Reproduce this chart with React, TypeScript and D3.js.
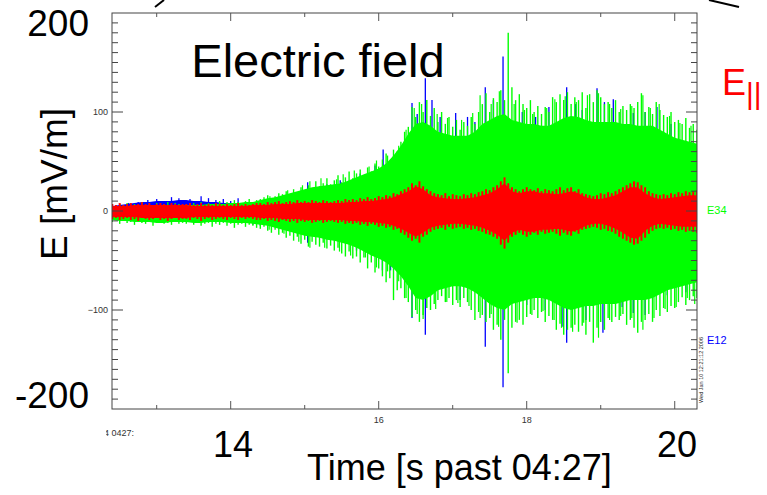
import React from 'react';
import * as d3 from 'd3';

// Coarse time grid (s past 04:27), 0.1 s bins — bulk envelopes
const TIME = d3.range(80).map((i) => Math.round((12.4 + i * 0.1) * 10) / 10);
// Fine time grid, 0.05 s bins — peak (hair) values
const FINE_TIME = d3.range(159).map((i) => Math.round((12.4 + i * 0.05) * 100) / 100);

// E34 (green) bulk envelope
const E34_UPPER = [
  4, 4, 5, 5, 5, 5, 6, 6, 5, 5, 6, 6, 6, 7, 7, 7, 8, 8, 9, 9,
  11, 13, 14, 16, 18, 20, 22,
  24, 25, 26, 27, 28,
  31, 34, 37, 40, 43,
  48, 56, 66, 78,
  88, 90, 86,
  80, 78, 76, 76, 76, 80,
  88, 92, 96, 98, 92,
  90, 88, 88, 86, 86, 90,
  94, 96, 95, 92, 90,
  90, 90, 90, 88, 88,
  86, 86, 86, 82, 78,
  74, 72, 70, 68,
];
const E34_LOWER = [
  -9, -10, -10, -11, -11, -11, -12, -12, -11, -11, -11, -12, -12, -11, -11, -11, -12, -12, -12, -13,
  -14, -15, -17, -19, -21, -23, -25,
  -26, -27, -29, -30, -32,
  -34, -37, -41, -45, -48,
  -52, -58, -66, -76,
  -88, -90, -86,
  -80, -78, -76, -76, -78, -82,
  -88, -94, -98, -100, -94,
  -92, -90, -88, -88, -90, -94,
  -98, -100, -98, -96, -96,
  -94, -94, -94, -92, -90,
  -90, -90, -88, -84, -80,
  -78, -76, -74, -72,
];
// E34 peaks per 0.05 s bin
const E34_PEAK_UP = [
  6, 5, 7, 6, 8, 5, 7, 6, 9, 6, 7, 5, 8, 6, 7, 9, 6, 8, 7, 6,
  7, 6, 8, 7, 9, 6, 8, 7, 8, 10, 7, 9, 8, 11, 9, 8, 10, 12, 9, 11,
  12, 14, 16, 13, 15, 18, 17, 20, 16, 22, 19, 24, 21, 26, 23, 30, 25, 28, 33, 27,
  31, 36, 29, 34, 40, 33, 38, 42, 36, 44, 40, 48, 45, 52, 58, 50, 62, 60, 70, 80,
  85, 105, 95, 110, 100, 112, 96, 104, 90, 100, 88, 95, 85, 92, 82, 90, 86, 95, 88, 100,
  108, 119, 100, 114, 110, 122, 112, 180, 125, 112, 118, 108, 104, 112, 100, 106, 98, 105, 100, 115,
  110, 118, 112, 120, 108, 115, 112, 120, 104, 118, 110, 122, 115, 108, 110, 104, 112, 100, 106, 102,
  108, 104, 110, 119, 100, 105, 98, 110, 102, 97, 95, 100, 90, 92, 88, 94, 84, 88, 82,
];
const E34_PEAK_DOWN = [
  -11, -9, -13, -10, -12, -11, -14, -10, -12, -13, -11, -15, -12, -10, -13, -12, -14, -11, -13, -12,
  -13, -11, -14, -12, -15, -13, -12, -16, -13, -14, -12, -15, -13, -17, -14, -13, -16, -14, -15, -17,
  -18, -16, -20, -22, -19, -24, -22, -27, -25, -30, -26, -33, -29, -36, -31, -34, -36, -32, -38, -35,
  -40, -37, -43, -46, -41, -48, -46, -52, -47, -58, -52, -62, -58, -66, -72, -68, -90, -80, -78, -88,
  -92, -107, -100, -112, -105, -98, -100, -94, -90, -86, -92, -88, -95, -90, -97, -88, -92, -100, -110, -102,
  -105, -112, -108, -120, -115, -130, -110, -164, -118, -112, -110, -115, -107, -104, -100, -108, -102, -112, -106, -110,
  -120, -114, -125, -120, -118, -115, -122, -116, -125, -112, -133, -118, -112, -120, -108, -112, -107, -110, -104, -115,
  -110, -118, -123, -112, -110, -104, -112, -100, -106, -98, -102, -96, -98, -92, -87, -95, -90, -86, -88,
];
// Extra individual E34 spikes [time, value]
const E34_SPIKES: [number, number][] = [
  [14.53, 15], [14.77, 21], [14.97, 26], [15.07, 30], [15.22, 33], [15.43, 32], [15.52, 37],
  [15.67, 41], [15.87, 45], [15.97, 51], [16.12, 56], [16.27, 66], [16.37, 82], [16.48, 104],
  [16.58, 108], [16.79, 98], [16.93, 94], [17.12, 92], [17.27, 99], [17.37, 117], [17.52, 108],
  [17.63, 121], [17.83, 108], [17.97, 102], [18.08, 98], [18.27, 104], [18.38, 113], [18.52, 116],
  [18.67, 110], [18.82, 117], [18.97, 119], [19.12, 108], [19.27, 103], [19.42, 106], [19.57, 117],
  [19.67, 104], [19.79, 108], [19.93, 96], [20.07, 89], [20.22, 86],
  [14.52, -19], [14.72, -23], [14.92, -31], [15.07, -37], [15.27, -37], [15.47, -41], [15.62, -45],
  [15.82, -47], [15.97, -57], [16.12, -61], [16.27, -71], [16.37, -88], [16.52, -104], [16.6, -109],
  [16.77, -99], [16.92, -92], [17.07, -93], [17.22, -96], [17.37, -108], [17.52, -104], [17.62, -117],
  [17.87, -113], [18.07, -105], [18.22, -101], [18.37, -110], [18.47, -118], [18.62, -122],
  [18.77, -113], [18.97, -128], [19.12, -110], [19.27, -106], [19.42, -108], [19.57, -120],
  [19.72, -108], [19.87, -99], [20.02, -97], [20.17, -88], [20.27, -94],
];

// E12 (blue) bulk envelope
const E12_UPPER = [
  5, 6, 7, 8, 9, 9, 10, 10, 10, 11, 11, 10, 10, 9, 9, 8, 8, 7, 6, 6,
  10, 12, 13, 15, 16, 18, 20,
  22, 23, 24, 25, 26,
  29, 31, 34, 37, 40,
  45, 52, 62, 74,
  84, 86, 82,
  76, 74, 72, 72, 72, 76,
  84, 88, 92, 94, 88,
  86, 84, 84, 82, 82, 86,
  90, 92, 91, 88, 86,
  86, 86, 86, 84, 84,
  82, 82, 82, 78, 74,
  70, 68, 66, 64,
];
const E12_LOWER = [
  -4, -4, -5, -5, -5, -5, -5, -5, -5, -5, -5, -6, -6, -6, -6, -7, -7, -8, -9, -10,
  -12, -14, -16, -18, -20, -22, -23,
  -24, -25, -27, -28, -30,
  -32, -35, -38, -42, -45,
  -49, -55, -62, -72,
  -84, -86, -82,
  -76, -74, -72, -72, -74, -78,
  -84, -90, -94, -96, -90,
  -88, -86, -84, -84, -86, -90,
  -94, -96, -94, -92, -92,
  -90, -90, -90, -88, -86,
  -86, -86, -84, -80, -76,
  -74, -72, -70, -68,
];
// Individual E12 spikes [time, value]
const E12_SPIKES: [number, number][] = [
  [12.5, 7], [12.62, 8], [12.75, 9], [12.88, 11], [13.0, 12], [13.1, 10], [13.2, 14], [13.3, 13],
  [13.45, 12], [13.6, 15], [13.7, 13], [13.8, 11], [13.9, 12], [14.0, 10], [14.1, 13], [14.2, 9],
  [15.04, 29], [15.3, 27], [15.48, 31], [15.75, 38], [15.95, 46], [16.06, 62], [16.2, 55],
  [16.38, 65], [16.45, 109], [16.52, 98], [16.63, 134], [16.72, 112], [16.83, 95], [17.04, 99],
  [17.2, 95], [17.3, 90], [17.44, 125], [17.55, 112], [17.68, 156], [17.94, 100], [18.12, 95],
  [18.3, 105], [18.54, 125], [18.66, 108], [18.75, 102], [18.95, 124], [19.05, 110], [19.17, 113],
  [19.44, 99], [19.6, 100], [19.76, 105], [19.95, 88], [20.07, 72],
  [12.8, -7], [13.4, -8], [14.3, -14], [14.4, -15], [15.04, -32], [15.48, -31], [15.7, -40],
  [16.05, -60], [16.16, -60], [16.45, -108], [16.63, -125], [16.87, -77], [17.1, -90],
  [17.44, -137], [17.68, -178], [18.0, -95], [18.25, -100], [18.49, -117], [18.54, -133],
  [18.8, -110], [19.03, -123], [19.29, -97], [19.44, -103], [19.6, -105], [19.9, -85], [20.15, -82],
];

// E|| (red) bulk envelope
const EPAR_UPPER = [
  5, 5, 5, 6, 6, 6, 6, 6, 6, 6, 6, 5, 5, 5, 5, 5, 5, 5, 5, 6,
  6, 6, 7, 7, 7, 8, 8,
  8, 8, 8, 8, 8,
  9, 9, 10, 10, 11,
  12, 14, 17, 20,
  25, 22, 16,
  14, 13, 12, 12, 13, 14,
  16, 18, 22, 28, 20,
  18, 20, 20, 18, 18, 17,
  18, 20, 18, 14, 12,
  12, 14, 16, 20, 24,
  24, 18, 14, 12, 13,
  14, 15, 16, 16,
];
const EPAR_LOWER = [
  -6, -6, -6, -6, -7, -7, -7, -7, -7, -7, -7, -6, -6, -6, -6, -6, -6, -6, -6, -6,
  -7, -7, -7, -8, -8, -8, -9,
  -9, -9, -9, -9, -9,
  -10, -10, -11, -11, -12,
  -13, -15, -18, -22,
  -26, -22, -17,
  -15, -14, -13, -13, -14, -15,
  -17, -20, -24, -30, -22,
  -19, -21, -21, -19, -19, -18,
  -19, -21, -19, -15, -13,
  -13, -15, -18, -22, -27,
  -28, -20, -15, -13, -14,
  -15, -16, -16, -16,
];
// E|| peaks per 0.05 s bin
const EPAR_PEAK_UP = [
  7, 6, 8, 6, 7, 8, 6, 7, 9, 7, 8, 6, 7, 8, 7, 6, 8, 7, 6, 7,
  7, 8, 6, 7, 8, 6, 7, 6, 8, 7, 6, 7, 6, 7, 8, 6, 7, 6, 7, 8,
  8, 7, 9, 8, 9, 10, 8, 9, 10, 9, 11, 9, 10, 9, 11, 10, 9, 11, 10, 9,
  10, 11, 10, 12, 11, 12, 11, 13, 12, 14, 12, 13, 15, 14, 16, 15, 18, 17, 20, 22,
  24, 28, 26, 30, 25, 22, 20, 18, 17, 16, 18, 15, 17, 16, 15, 17, 16, 18, 17, 19,
  20, 22, 21, 24, 26, 30, 34, 28, 24, 22, 20, 22, 24, 22, 21, 23, 20, 22, 21, 20,
  22, 24, 21, 23, 24, 20, 22, 18, 17, 16, 15, 16, 18, 17, 19, 18, 20, 22, 24, 26,
  28, 30, 29, 26, 24, 20, 18, 17, 16, 17, 16, 18, 17, 19, 18, 20, 19, 20, 21,
];
const EPAR_PEAK_DOWN = [
  -8, -7, -9, -8, -7, -9, -8, -10, -7, -8, -9, -8, -7, -9, -8, -10, -8, -7, -9, -8,
  -8, -9, -7, -8, -10, -8, -7, -9, -8, -7, -8, -9, -7, -8, -9, -7, -8, -7, -8, -9,
  -9, -8, -10, -9, -10, -11, -9, -10, -11, -10, -12, -10, -11, -10, -12, -11, -10, -12, -11, -10,
  -11, -12, -11, -13, -12, -13, -12, -14, -13, -15, -13, -14, -16, -15, -17, -16, -19, -18, -22, -24,
  -27, -30, -28, -32, -26, -24, -21, -19, -18, -17, -19, -16, -18, -17, -16, -18, -17, -19, -18, -20,
  -21, -23, -24, -26, -28, -34, -38, -32, -26, -24, -22, -24, -26, -24, -22, -24, -21, -23, -22, -21,
  -23, -25, -22, -24, -25, -21, -23, -19, -18, -17, -16, -17, -19, -18, -20, -21, -23, -26, -28, -30,
  -32, -34, -33, -30, -27, -23, -20, -18, -17, -18, -17, -19, -18, -20, -19, -21, -20, -21, -22,
];

const X_TICKS = [13, 14, 15, 16, 17, 18, 19, 20];
const X_LABELS = [16, 18];
const Y_LABELS = [100, 0, -100];

const W = 767;
const H = 495;
const L = 112, R = 697, T = 13, B = 409;
const FONT = "'Liberation Sans', Arial, Helvetica, sans-serif";

const BLUE = '#0000ff';
const GREEN = '#00ff00';
const RED = '#ff0000';

export default function App() {
  const x = d3.scaleLinear().domain([12.396, 20.301]).range([L, R]);
  const y = d3.scaleLinear().domain([-200, 200]).range([B, T]);

  const band = (up: number[], lo: number[]) =>
    d3
      .area<number>()
      .x((_, i) => x(TIME[i]))
      .y0((_, i) => y(lo[i]))
      .y1((_, i) => y(up[i]))
      .curve(d3.curveLinear)(TIME) || '';

  const yTicks = d3.range(-190, 200, 10);

  return (
    <svg
      width={W}
      height={H}
      style={{ position: 'absolute', left: 0, top: 0, background: '#fff' }}
      fontFamily={FONT}
    >
      <rect x={0} y={0} width={W} height={H} fill="#fff" />
      <defs>
        <clipPath id="plot">
          <rect x={L} y={T} width={R - L} height={B - T} />
        </clipPath>
        <clipPath id="lbl">
          <rect x={106} y={420} width={100} height={30} />
        </clipPath>
      </defs>

      <g clipPath="url(#plot)">
        {/* E12 blue */}
        <path d={band(E12_UPPER, E12_LOWER)} fill={BLUE} />
        {E12_SPIKES.map(([t, v], i) => (
          <line key={'b' + i} x1={x(t)} x2={x(t)} y1={y(0)} y2={y(v)} stroke={BLUE} strokeWidth={1.3} />
        ))}
        {/* E34 green */}
        <path d={band(E34_UPPER, E34_LOWER)} fill={GREEN} />
        {FINE_TIME.map((t, i) => (
          <line
            key={'g' + i}
            x1={x(t)}
            x2={x(t)}
            y1={y(E34_PEAK_DOWN[i])}
            y2={y(E34_PEAK_UP[i])}
            stroke={GREEN}
            strokeWidth={1.4}
          />
        ))}
        {E34_SPIKES.map(([t, v], i) => (
          <line key={'gs' + i} x1={x(t)} x2={x(t)} y1={y(0)} y2={y(v)} stroke={GREEN} strokeWidth={1.2} />
        ))}
        {/* E|| red */}
        <path d={band(EPAR_UPPER, EPAR_LOWER)} fill={RED} />
        {FINE_TIME.map((t, i) => (
          <line
            key={'r' + i}
            x1={x(t)}
            x2={x(t)}
            y1={y(EPAR_PEAK_DOWN[i])}
            y2={y(EPAR_PEAK_UP[i])}
            stroke={RED}
            strokeWidth={2}
          />
        ))}
      </g>

      {/* frame */}
      <rect x={L} y={T} width={R - L} height={B - T} fill="none" stroke="#444" strokeWidth={1} />

      {/* y ticks */}
      {yTicks.map((v) => {
        const major = v % 100 === 0;
        const len = major ? 11 : 6;
        return (
          <g key={'yt' + v} stroke="#444" strokeWidth={1}>
            <line x1={L} x2={L + len} y1={y(v)} y2={y(v)} />
            <line x1={R} x2={R - len} y1={y(v)} y2={y(v)} />
          </g>
        );
      })}
      {/* x ticks */}
      {X_TICKS.map((t) => {
        const major = t % 2 === 0;
        const len = major ? 8 : 4;
        return (
          <g key={'xt' + t} stroke="#555" strokeWidth={1}>
            <line x1={x(t)} x2={x(t)} y1={B} y2={B - len} />
            <line x1={x(t)} x2={x(t)} y1={T} y2={T + len} />
          </g>
        );
      })}

      {/* small tick labels */}
      {Y_LABELS.map((v) => (
        <text key={'yl' + v} x={108} y={y(v) + 3} fontSize={9} textAnchor="end" fill="#333">
          {v < 0 ? '\u2212' + Math.abs(v) : String(v)}
        </text>
      ))}
      {X_LABELS.map((t) => (
        <text key={'xl' + t} x={x(t)} y={423} fontSize={9} textAnchor="middle" fill="#333">
          {t}
        </text>
      ))}
      <g clipPath="url(#lbl)">
        <text x={99} y={436} fontSize={9} fill="#333">14 0427:</text>
      </g>

      <text x={707} y={214} fontSize={11} fill={GREEN}>E34</text>
      <text x={707} y={344} fontSize={11} fill={BLUE}>E12</text>
      <text transform="translate(703,370) rotate(-90)" fontSize={5.5} textAnchor="middle" fill="#222">
        Wed Jan 10 12:21:12 2006
      </text>

      {/* slide overlay annotations */}
      <line x1={155} y1={7} x2={164} y2={0} stroke="#000" strokeWidth={2} />
      <line x1={709} y1={0} x2={739} y2={7} stroke="#000" strokeWidth={2} />

      <text x={318} y={77} fontSize={47} textAnchor="middle" fill="#000">Electric field</text>
      <text x={89} y={36} fontSize={37} textAnchor="end" fill="#000">200</text>
      <text x={89} y={408} fontSize={37} textAnchor="end" fill="#000">-200</text>
      <text transform="translate(67,184) rotate(-90)" fontSize={37} textAnchor="middle" fill="#000">
        E [mV/m]
      </text>
      <text x={233} y={457} fontSize={36} textAnchor="middle" fill="#000">14</text>
      <text x={677} y={457} fontSize={36} textAnchor="middle" fill="#000">20</text>
      <text x={307} y={480} fontSize={36} fill="#000">Time [s past 04:27]</text>

      <text x={722} y={95} fontSize={36} fill={RED}>E</text>
      <text x={746} y={104} fontSize={30} fill={RED}>||</text>
    </svg>
  );
}
